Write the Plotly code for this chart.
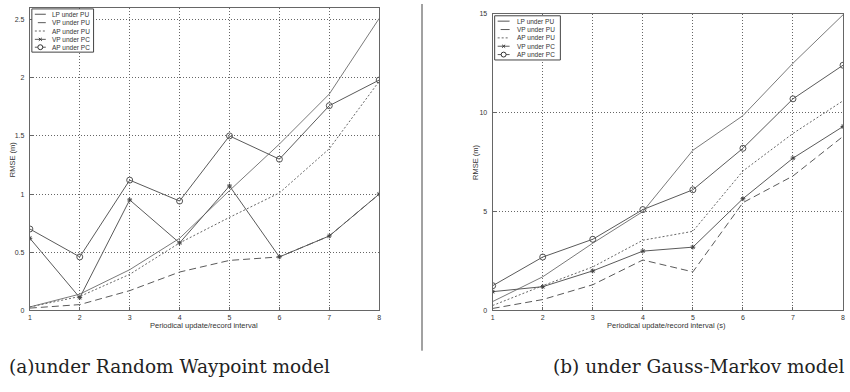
import plotly.graph_objects as go

x_vals = [1, 2, 3, 4, 5, 6, 7, 8]
series_names = ["LP under PU", "VP under PU", "AP under PU", "VP under PC", "AP under PC"]

# (a) Random Waypoint model
rw_lp_pu = [0.03, 0.14, 0.35, 0.62, 1.03, 1.43, 1.86, 2.51]
rw_vp_pu = [0.02, 0.05, 0.17, 0.33, 0.43, 0.46, 0.64, 1.00]
rw_ap_pu = [0.03, 0.12, 0.31, 0.58, 0.80, 1.01, 1.39, 1.97]
rw_vp_pc = [0.62, 0.11, 0.95, 0.58, 1.07, 0.46, 0.64, 1.00]
rw_ap_pc = [0.70, 0.46, 1.12, 0.94, 1.50, 1.30, 1.76, 1.98]

# (b) Gauss-Markov model
gm_lp_pu = [0.45, 1.70, 3.40, 5.00, 8.10, 9.85, 12.50, 14.95]
gm_vp_pu = [0.10, 0.55, 1.30, 2.55, 1.95, 5.45, 6.80, 8.80]
gm_ap_pu = [0.25, 1.25, 2.20, 3.55, 4.00, 7.05, 8.95, 10.60]
gm_vp_pc = [0.95, 1.20, 2.00, 3.00, 3.20, 5.65, 7.70, 9.30]
gm_ap_pc = [1.25, 2.70, 3.60, 5.10, 6.10, 8.20, 10.70, 12.40]

W, H = 850, 392
LINE_C = "#5a5a5a"
dashes = ["solid", "7px,4px", "2px,2px", "solid", "solid"]
line_colors = ["#7a7a7a", LINE_C, "#666666", LINE_C, LINE_C]
markers = [None, None, None,
           dict(symbol="asterisk-open", size=4, color="#444444", line=dict(width=1, color="#444444")),
           dict(symbol="circle-open", size=6, color="#555555", line=dict(width=1, color="#555555"))]

fig = go.Figure()
for data, xa, ya in [
    ([rw_lp_pu, rw_vp_pu, rw_ap_pu, rw_vp_pc, rw_ap_pc], "x", "y"),
    ([gm_lp_pu, gm_vp_pu, gm_ap_pu, gm_vp_pc, gm_ap_pc], "x2", "y2"),
]:
    for name, ys, dash, lc, mk in zip(series_names, data, dashes, line_colors, markers):
        kw = dict(x=x_vals, y=ys, name=name, line=dict(color=lc, width=1, dash=dash),
                  xaxis=xa, yaxis=ya, showlegend=False,
                  mode="lines" if mk is None else "lines+markers")
        if mk is not None:
            kw["marker"] = mk
        fig.add_trace(go.Scatter(**kw))

SANS = "Liberation Sans, Arial"
tickfont = dict(family=SANS, size=7, color="#333333")
axis_common = dict(showline=True, linecolor="#666666", linewidth=1, mirror=True,
                   showgrid=True, gridcolor="#666666", griddash="1px,2px", gridwidth=1,
                   ticks="inside", ticklen=3, tickcolor="#666666", zeroline=False,
                   tickfont=tickfont)

def px(x):
    return x / W

def py(y):
    return 1 - y / H

shapes = [dict(type="line", xref="paper", yref="paper", x0=px(422), x1=px(422),
               y0=py(353), y1=1, line=dict(color="#444444", width=1))]
annotations = []

def add_legend(x0, y0, x1, y1, rows, sx0, sx1, tx):
    shapes.append(dict(type="rect", xref="paper", yref="paper", x0=px(x0), x1=px(x1),
                       y0=py(y1), y1=py(y0), line=dict(color="#444444", width=1),
                       fillcolor="white", layer="above"))
    for i, (name, ry) in enumerate(zip(series_names, rows)):
        d = dashes[i]
        if i == 1:
            xs0, xs1, d = sx0 + 3, sx1, "solid"
        else:
            xs0, xs1 = sx0, sx1
        shapes.append(dict(type="line", xref="paper", yref="paper", x0=px(xs0), x1=px(xs1),
                           y0=py(ry), y1=py(ry), layer="above",
                           line=dict(color=line_colors[i], width=1.3 if i == 0 else 1, dash=d)))
        cx = (sx0 + sx1) / 2
        if i == 3:
            for dx, dy in [(-1.5, -1.5), (-1.5, 1.5)]:
                shapes.append(dict(type="line", xref="paper", yref="paper", layer="above",
                                   x0=px(cx + dx), x1=px(cx - dx), y0=py(ry + dy), y1=py(ry - dy),
                                   line=dict(color="#333333", width=1)))
        if i == 4:
            shapes.append(dict(type="circle", xref="paper", yref="paper", layer="above",
                               x0=px(cx - 2.5), x1=px(cx + 2.5), y0=py(ry + 2.5), y1=py(ry - 2.5),
                               fillcolor="white", line=dict(color="#333333", width=1)))
        annotations.append(dict(text=name, xref="paper", yref="paper", x=px(tx), y=py(ry),
                                xanchor="left", yanchor="middle", showarrow=False,
                                font=dict(family=SANS, size=6.5, color="#333333")))

add_legend(30, 5, 92, 49, [10.5, 19, 27.5, 36, 44], 33, 44, 48)
add_legend(495, 12, 561, 57, [17.5, 26, 34.5, 43, 51.5], 498, 510, 515)

label_font = dict(family=SANS, size=7.5, color="#333333")
annotations += [
    dict(text="RMSE (m)", xref="paper", yref="paper", x=px(10), y=py(158), textangle=-90,
         xanchor="center", yanchor="middle", showarrow=False, font=label_font),
    dict(text="RMSE (m)", xref="paper", yref="paper", x=px(475), y=py(161), textangle=-90,
         xanchor="center", yanchor="middle", showarrow=False, font=label_font),
    dict(text="Periodical update/record interval", xref="paper", yref="paper", x=px(203), y=py(327),
         xanchor="center", yanchor="middle", showarrow=False, font=label_font),
    dict(text="Periodical update/record interval (s)", xref="paper", yref="paper", x=px(668), y=py(327),
         xanchor="center", yanchor="middle", showarrow=False, font=label_font),
    dict(text="(a)under Random Waypoint model", xref="paper", yref="paper",
         x=px(168), y=py(369), xanchor="center", yanchor="middle", showarrow=False,
         font=dict(family="DejaVu Serif", size=18.5, color="#222222")),
    dict(text="(b) under Gauss-Markov model", xref="paper", yref="paper",
         x=px(700), y=py(369), xanchor="center", yanchor="middle", showarrow=False,
         font=dict(family="DejaVu Serif", size=18.5, color="#222222")),
]

fig.update_layout(
    width=W, height=H,
    margin=dict(l=0, r=0, t=0, b=0),
    paper_bgcolor="white", plot_bgcolor="white",
    showlegend=False,
    xaxis=dict(domain=[px(28), px(379)], range=[1, 8], tickvals=x_vals, anchor="y", **axis_common),
    yaxis=dict(domain=[py(312), py(4)], range=[0, 2.6], tickvals=[0, 0.5, 1, 1.5, 2, 2.5],
               ticktext=["0", "0.5", "1", "1.5", "2", "2.5"], ticklabelstandoff=3,
               anchor="x", **axis_common),
    xaxis2=dict(domain=[px(493), px(845)], range=[1, 8], tickvals=x_vals, anchor="y2", **axis_common),
    yaxis2=dict(domain=[py(312), py(10)], range=[0, 15], tickvals=[0, 5, 10, 15],
                ticklabelstandoff=3, anchor="x2", **axis_common),
    shapes=shapes,
    annotations=annotations,
)

fig.write_html("out.html", config={"displayModeBar": False},
               post_script="document.body.style.margin='0';document.body.style.padding='0';")
